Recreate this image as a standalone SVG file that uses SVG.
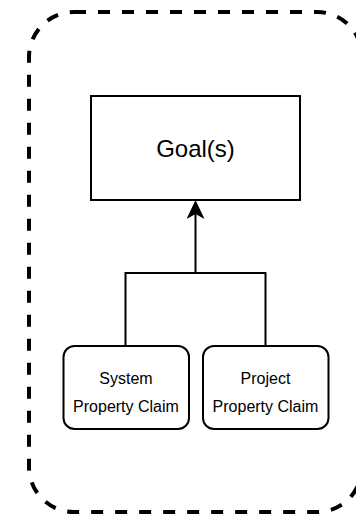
<svg xmlns="http://www.w3.org/2000/svg" width="356" height="515" viewBox="0 0 356 515">
  <defs>
    <marker id="arrow" viewBox="0 0 19 18" refX="14" refY="9" markerWidth="19" markerHeight="18" markerUnits="userSpaceOnUse" orient="auto">
      <path d="M0,0 L19,9 L0,18 L5,9 Z" fill="#000"/>
    </marker>
    <style>
      .container { fill: none; stroke: #000; stroke-width: 4; stroke-dasharray: 12 12; }
      .box { fill: #fff; stroke: #000; stroke-width: 2; }
      .edge { fill: none; stroke: #000; stroke-width: 2; }
      .label { font-family: "Liberation Sans", Arial, Helvetica, sans-serif; fill: #000; text-anchor: middle; }
    </style>
  </defs>
  <rect width="356" height="515" fill="#fff"/>

  <!-- dashed boundary -->
  <rect class="container" x="29" y="12" width="333" height="500" rx="45" ry="45"/>

  <!-- connectors -->
  <g id="connectors">
    <path class="edge" d="M125.5,346 V273 H265.5 V346"/>
    <path class="edge" d="M195.5,273 V205" marker-end="url(#arrow)"/>
  </g>

  <g id="goal">
    <rect class="box" x="91" y="96" width="209" height="104"/>
    <text class="label" x="195.5" y="157" font-size="24">Goal(s)</text>
  </g>

  <g id="system-claim">
    <rect class="box" x="63.5" y="346" width="125.5" height="83" rx="11" ry="11"/>
    <text class="label" x="126" y="383.5" font-size="16">System</text>
    <text class="label" x="126" y="411.5" font-size="16">Property Claim</text>
  </g>

  <g id="project-claim">
    <rect class="box" x="203" y="346" width="125.5" height="83" rx="11" ry="11"/>
    <text class="label" x="265.5" y="383.5" font-size="16">Project</text>
    <text class="label" x="265.5" y="411.5" font-size="16">Property Claim</text>
  </g>
</svg>
